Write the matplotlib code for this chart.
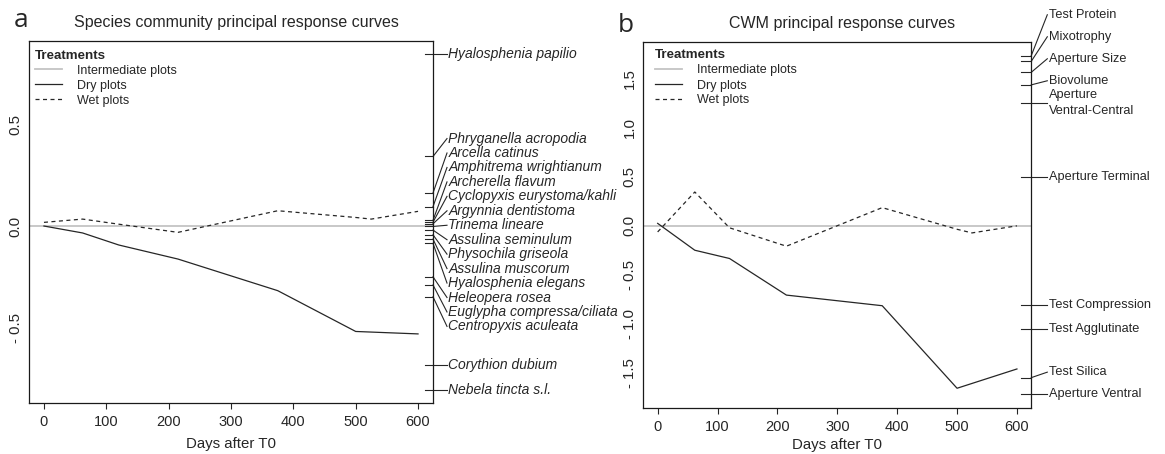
import numpy as np
import matplotlib
matplotlib.use("Agg")
import matplotlib.pyplot as plt
from matplotlib.transforms import blended_transform_factory
from matplotlib.lines import Line2D

# ---------------- data ----------------
days = [0, 62, 120, 215, 375, 500, 525, 600]
treatments = ["Intermediate plots", "Dry plots", "Wet plots"]
reference_level = 0.0  # intermediate plots are the PRC reference

species_names = ["Hyalosphenia papilio", "Phryganella acropodia", "Arcella catinus",
                 "Amphitrema wrightianum", "Archerella flavum", "Cyclopyxis eurystoma/kahli",
                 "Argynnia dentistoma", "Trinema lineare", "Assulina seminulum",
                 "Physochila griseola", "Assulina muscorum", "Hyalosphenia elegans",
                 "Heleopera rosea", "Euglypha compressa/ciliata", "Centropyxis aculeata",
                 "Corythion dubium", "Nebela tincta s.l."]
species_scores = [0.843, 0.341, 0.162, 0.095, 0.028, 0.019, 0.011, -0.002, -0.020,
                  -0.043, -0.064, -0.085, -0.249, -0.289, -0.347, -0.680, -0.802]
dry_a = [0.000, -0.034, -0.093, -0.162, -0.317, -0.517, -0.520, -0.529]
wet_a = [0.018, 0.034, 0.009, -0.031, 0.075, 0.042, 0.034, 0.072]

trait_names = ["Test Protein", "Mixotrophy", "Aperture Size", "Biovolume",
               "Aperture\nVentral-Central", "Aperture Terminal", "Test Compression",
               "Test Agglutinate", "Test Silica", "Aperture Ventral"]
trait_scores = [1.731, 1.673, 1.561, 1.433, 1.251, 0.496, -0.806, -1.052, -1.543, -1.711]
dry_b = [0.025, -0.248, -0.332, -0.704, -0.812, -1.651, -1.602, -1.455]
wet_b = [-0.062, 0.344, -0.020, -0.207, 0.185, -0.035, -0.072, 0.000]

xticks = [0, 100, 200, 300, 400, 500, 600]
yticks_a = [-0.5, 0.0, 0.5]
yticks_b = [-1.5, -1.0, -0.5, 0.0, 0.5, 1.0, 1.5]

# ---------------- style ----------------
plt.rcParams['font.family'] = ['Liberation Sans', 'DejaVu Sans']
plt.rcParams['lines.scale_dashes'] = False
DARK = "#262626"
GRAY = "#c4c4c4"
DASH = (0, (2.9, 2.5))

W, H = 1165, 454
fig = plt.figure(figsize=(W / 100, H / 100), dpi=100)


def fmt(v):
    s = f"{abs(v):.1f}"
    return ("- " + s) if v < 0 else s


def spread_center(scores, gap):
    order = np.argsort(scores)[::-1]
    s = np.asarray(scores, float)[order]
    clusters = [[i] for i in range(len(s))]

    def positions(cl):
        n = len(cl)
        return np.mean(s[cl]) + gap * ((n - 1) / 2 - np.arange(n))

    changed = True
    while changed:
        changed = False
        for k in range(len(clusters) - 1):
            if positions(clusters[k])[-1] - positions(clusters[k + 1])[0] < gap - 1e-12:
                clusters[k] = clusters[k] + clusters[k + 1]
                del clusters[k + 1]
                changed = True
                break
    pos = np.empty(len(s))
    for cl in clusters:
        pos[cl] = positions(cl)
    out = np.empty(len(s))
    out[order] = pos
    return out


def spread_up(scores, gap):
    order = np.argsort(scores)
    s = np.asarray(scores, float)[order]
    pos = s.copy()
    for i in range(1, len(s)):
        pos[i] = max(s[i], pos[i - 1] + gap)
    out = np.empty(len(s))
    out[order] = pos
    return out


def make_panel(box, dry, wet, names, scores, yticks, title, letter, title_x, title_y,
               letter_xy, legend_dx, legend_dy, gap_px, mode, tick_px, link_px,
               lab_fs, lab_style, ytick_x, xlabelpad):
    left, top, right, bottom = box
    wpx, hpx = right - left, bottom - top
    ax = fig.add_axes([left / W, 1 - bottom / H, wpx / W, hpx / H])
    allv = list(scores) + list(dry) + list(wet) + [reference_level]
    lo, hi = min(allv), max(allv)
    pad = 0.04 * (hi - lo)
    ax.set_ylim(lo - pad, hi + pad)
    ax.set_xlim(-0.04 * 600, 600 + 0.04 * 600)
    yr = hi - lo + 2 * pad

    ax.axhline(reference_level, color=GRAY, lw=1.3, zorder=1)
    ax.plot(days, dry, color=DARK, lw=0.9, zorder=3)
    ax.plot(days, wet, color=DARK, lw=0.9, ls=DASH, zorder=3)

    for sp in ax.spines.values():
        sp.set_color("#1a1a1a")
        sp.set_linewidth(0.9)
    ax.set_xticks(xticks)
    ax.set_xticklabels([str(t) for t in xticks])
    ax.set_yticks(yticks)
    ax.set_yticklabels([fmt(t) for t in yticks], rotation=90, va='center')
    ax.tick_params(axis='x', length=4, width=0.8, pad=4.5, labelsize=10.5,
                   colors=DARK)
    ax.tick_params(axis='y', length=0, pad=(left - ytick_x) * 0.72 - 7,
                   labelsize=10.8, colors=DARK)
    ax.set_xlabel("Days after T0", fontsize=10.8, color=DARK, labelpad=xlabelpad)

    fig.text(title_x / W, 1 - title_y / H, title, ha='center', va='center',
             fontsize=11.5, color=DARK)
    fig.text(letter_xy[0] / W, 1 - letter_xy[1] / H, letter, ha='left',
             va='baseline', fontsize=19, family='Open Sans', color=DARK)

    handles = [Line2D([], [], color=GRAY, lw=1.3),
               Line2D([], [], color=DARK, lw=0.9),
               Line2D([], [], color=DARK, lw=0.9, ls=DASH)]
    leg = ax.legend(handles, treatments, title="Treatments", loc='upper left',
                    bbox_to_anchor=(legend_dx / wpx, 1 - legend_dy / hpx),
                    frameon=False, fontsize=9, alignment='left',
                    title_fontproperties={'weight': 'bold', 'size': 9.6},
                    handlelength=2.15, handletextpad=1.2, labelspacing=0.24,
                    borderpad=0, borderaxespad=0)
    for t in leg.get_texts():
        t.set_color(DARK)
    leg.get_title().set_color(DARK)

    # right side species / trait stack
    gap = gap_px * yr / hpx
    pos = spread_center(scores, gap) if mode == 'center' else spread_up(scores, gap)
    tr = blended_transform_factory(ax.transAxes, ax.transData)
    for name, sc, p in zip(names, scores, pos):
        ax.plot([1 - tick_px / wpx, 1], [sc, sc], color=DARK, lw=0.8,
                transform=tr, clip_on=False)
        ax.plot([1, 1 + link_px / wpx], [sc, p], color=DARK, lw=0.8,
                transform=tr, clip_on=False)
        ax.text(1 + (link_px + 1.5) / wpx, p, name, transform=tr, ha='left',
                va='center', fontsize=lab_fs, style=lab_style, color=DARK,
                linespacing=1.4, clip_on=False)
    return ax


make_panel((29, 40.7, 433, 403), dry_a, wet_a, species_names, species_scores,
           yticks_a, "Species community principal response curves", "a",
           236.7, 22.7, (14, 27), 6, 9.0, 14.45, 'center', 8, 14, 10.0,
           'italic', 13, 6.0)
make_panel((643.3, 42, 1031.3, 407.7), dry_b, wet_b, trait_names, trait_scores,
           yticks_b, "CWM principal response curves", "b",
           842.5, 23.3, (618, 32), 11.7, 7.5, 22, 'up', 10, 16, 9.2,
           'normal', 627, 3.0)

fig.savefig("out.png", dpi=100)
